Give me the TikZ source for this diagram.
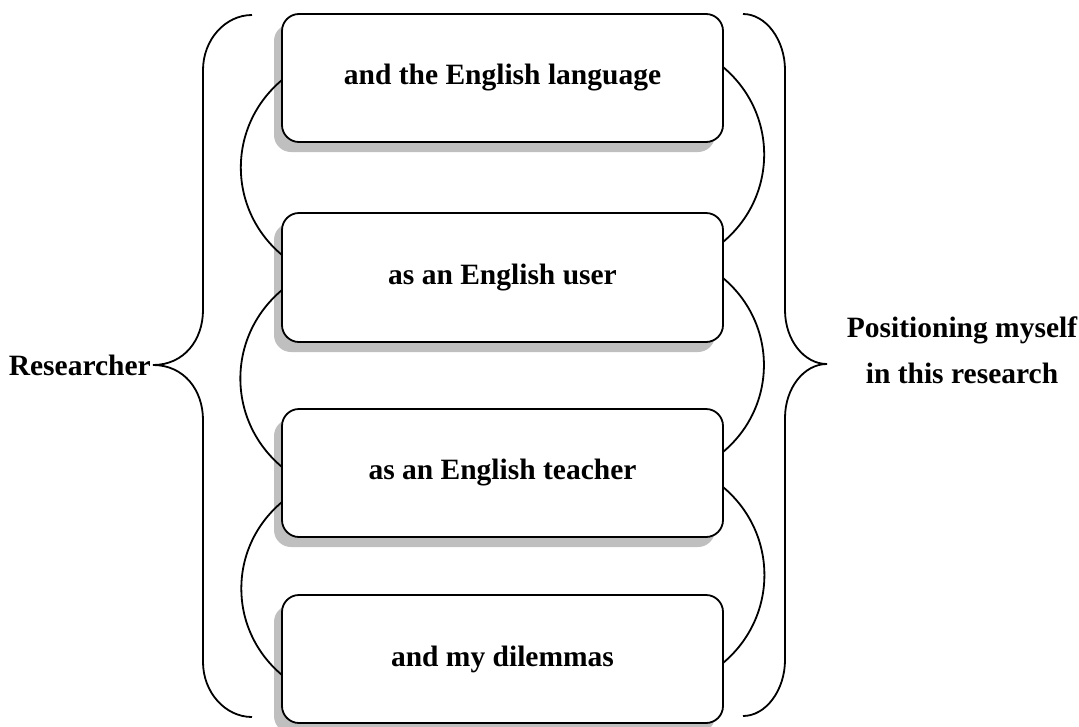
\documentclass[tikz,border=0pt]{standalone}
\usepackage{fontspec}
\setmainfont{Liberation Serif}
\usetikzlibrary{shadows,calc}
\tikzset{
  stepbox/.style={draw=black, line width=1.8pt, rounded corners=17pt, fill=white,
    minimum width=441pt, minimum height=128pt, inner sep=0pt, outer sep=0pt,
    font=\fontsize{29.5}{34}\selectfont\bfseries,
    general shadow={shadow xshift=-8pt, shadow yshift=-10pt, fill=black!25, draw=none}},
  link/.style={draw=black, line width=1.8pt},
  larc/.style={link, out=220, in=140, looseness=1.05},
  rarc/.style={link, out=-40, in=40, looseness=1.05},
  brace/.style={draw=black, line width=1.8pt},
  side/.style={font=\fontsize{29.5}{46}\selectfont\bfseries, inner sep=0pt, align=center}
}
\begin{document}
\begin{tikzpicture}[x=1pt,y=1pt]
\useasboundingbox (0,0) rectangle (1079,-726);
% boxes
\node[stepbox] (b1) at (502.5,-78) {and the English language};
\node[stepbox, minimum height=129pt] (b2) at (502.5,-277.5) {as an English user};
\node[stepbox] (b3) at (502.5,-473) {as an English teacher};
\node[stepbox] (b4) at (502.5,-659) {and my dilemmas};
% attachment points
\coordinate (la1) at ($(b1.north west)+(0,-66)$);
\coordinate (la2) at ($(b2.north west)+(0,-42)$);
\coordinate (lb1) at ($(b2.north west)+(0,-77)$);
\coordinate (lb2) at ($(b3.north west)+(0,-58)$);
\coordinate (lc1) at ($(b3.north west)+(0,-93)$);
\coordinate (lc2) at ($(b4.north west)+(0,-80)$);
\coordinate (ra1) at ($(b1.north east)+(0,-53)$);
\coordinate (ra2) at ($(b2.north east)+(0,-29)$);
\coordinate (rb1) at ($(b2.north east)+(0,-65)$);
\coordinate (rb2) at ($(b3.north east)+(0,-43)$);
\coordinate (rc1) at ($(b3.north east)+(0,-78)$);
\coordinate (rc2) at ($(b4.north east)+(0,-68)$);
% arcs
\draw[larc] (la1) to (la2);
\draw[larc] (lb1) to (lb2);
\draw[larc] (lc1) to (lc2);
\draw[rarc] (ra1) to (ra2);
\draw[rarc] (rb1) to (rb2);
\draw[rarc] (rc1) to (rc2);
% left brace
\coordinate (ltip) at (153,-365);
\draw[brace] (252,-15) .. controls (225,-15) and (203,-40) .. (203,-70)
  -- (203,-310) .. controls (203,-340) and (184,-365) .. (ltip)
  .. controls (184,-365) and (203,-390) .. (203,-420)
  -- (203,-662) .. controls (203,-692) and (225,-717) .. (252,-717);
% right brace
\coordinate (rtip) at (827,-364);
\draw[brace] (743,-14) .. controls (766,-14) and (785,-40) .. (785,-70)
  -- (785,-310) .. controls (785,-340) and (804,-364) .. (rtip)
  .. controls (804,-364) and (785,-388) .. (785,-418)
  -- (785,-660) .. controls (785,-690) and (766,-716) .. (743,-716);
% side labels
\node[side, anchor=base east] (res) at (151,-375) {Researcher};
\node[side, anchor=base] (pos) at (962,-383) {Positioning myself\\in this research};
\end{tikzpicture}
\end{document}
